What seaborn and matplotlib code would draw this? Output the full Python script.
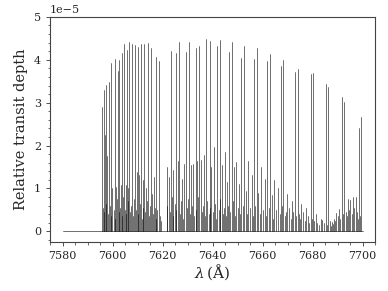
import matplotlib
matplotlib.use("Agg")
import matplotlib.pyplot as plt
import matplotlib.ticker as mticker
import seaborn as sns
import numpy as np
import pandas as pd

# spectrum range (Angstrom)
wl_start, wl_end = 7580.0, 7700.0

# strong O2 A-band lines: centre (A) and relative transit depth (units of 1e-5)
strong_wl = [7595.9, 7596.5, 7597.5, 7598.5, 7599.5, 7600.9, 7602.1, 7602.7, 7603.9, 7604.5,
             7605.6, 7606.7, 7607.7, 7608.9, 7610.0, 7611.2, 7612.5, 7614.1, 7615.2, 7617.2,
             7618.4,
             7623.2, 7625.5, 7626.6, 7629.2, 7630.5, 7633.2, 7634.5, 7637.5, 7638.8, 7641.9,
             7643.1, 7646.5, 7647.7, 7651.5, 7652.5, 7656.5, 7657.6, 7661.9, 7662.9, 7667.3,
             7668.3, 7672.9, 7674.0, 7679.2, 7680.1, 7685.2, 7686.3, 7691.6, 7692.7, 7698.5,
             7699.5]
strong_depth = [2.90, 3.29, 3.41, 3.49, 3.92, 4.01, 3.74, 3.99, 4.15, 4.36,
                4.23, 4.42, 4.36, 4.35, 4.29, 4.37, 4.37, 4.40, 4.27, 4.07,
                3.98,
                4.20, 4.15, 4.41, 4.18, 4.42, 4.28, 4.33, 4.49, 4.44, 4.33,
                4.46, 4.17, 4.41, 4.05, 4.33, 4.02, 4.27, 3.96, 4.13, 3.86,
                4.00, 3.72, 3.78, 3.68, 3.70, 3.43, 3.37, 3.14, 3.01, 2.41,
                2.67]

# medium lines
mid_wl = [7597.0, 7597.9, 7599.9, 7601.2, 7603.2, 7605.2, 7606.3, 7609.6, 7610.6, 7612.0,
          7613.5, 7615.7, 7616.5,
          7621.9, 7622.5, 7624.3, 7626.1, 7627.9, 7628.5, 7631.2, 7632.1, 7633.9, 7635.2,
          7636.5, 7639.5, 7640.5, 7643.6, 7644.9, 7645.9, 7648.5, 7649.5, 7654.3, 7655.6,
          7659.2, 7660.8, 7664.5, 7666.1, 7669.9, 7671.6, 7675.5, 7677.5, 7681.2, 7683.2,
          7683.9, 7687.6, 7688.5, 7689.5, 7690.5, 7694.1, 7695.1, 7696.1, 7697.2]
mid_depth = [2.25, 1.75, 1.00, 1.04, 1.07, 1.07, 1.00, 1.39, 1.31, 1.19,
             1.00, 0.88, 1.27,
             1.50, 1.27, 1.44, 1.63, 1.23, 1.58, 1.55, 1.56, 1.63, 1.66,
             1.78, 1.50, 1.97, 1.54, 1.85, 1.16, 1.50, 1.62, 1.64, 1.31,
             1.50, 1.22, 1.20, 1.00, 0.86, 0.70, 0.63, 0.55, 0.40, 0.30,
             0.26, 0.22, 0.30, 0.43, 0.53, 0.76, 0.72, 0.80, 0.80]

# faint line forest
faint_wl = [7596.0, 7596.7, 7597.4, 7598.1, 7598.8, 7599.3, 7600.4, 7601.0, 7601.8, 7602.4,
            7603.0, 7603.7, 7604.2, 7604.9, 7605.4, 7606.0, 7606.9, 7607.4, 7608.2, 7608.6,
            7609.3, 7610.3, 7611.0, 7611.6, 7612.3, 7612.9, 7613.8, 7614.6, 7615.0, 7616.0,
            7616.8, 7617.5, 7617.9, 7618.8, 7619.2,
            7621.7, 7622.8, 7623.6, 7624.0, 7624.8, 7625.2, 7626.9, 7627.4, 7628.1, 7629.6,
            7630.1, 7630.9, 7631.7, 7632.6, 7633.5, 7634.2, 7635.7, 7636.2, 7637.0, 7637.9,
            7638.4, 7639.1, 7640.0, 7641.0, 7641.5, 7642.4, 7642.8, 7644.0, 7644.5, 7645.3,
            7646.2, 7647.1, 7648.0, 7649.0, 7650.0, 7650.5, 7651.0, 7652.0, 7653.2, 7653.8,
            7654.8, 7656.0, 7657.1, 7658.3, 7658.8, 7660.0, 7661.4, 7662.4, 7663.8, 7664.0,
            7665.3, 7666.8, 7667.8, 7668.8, 7669.4, 7670.5, 7671.2, 7672.3, 7673.5, 7674.6,
            7675.0, 7676.2, 7676.9, 7678.0, 7678.7, 7679.7, 7680.6, 7681.8, 7682.5, 7684.5,
            7685.8, 7686.8, 7687.2, 7688.0, 7689.0, 7690.0, 7691.1, 7692.2, 7693.2, 7693.6,
            7694.6, 7695.6, 7696.6, 7697.7, 7698.0, 7699.0]
faint_depth = [0.55, 0.45, 0.65, 0.40, 0.60, 0.35, 0.50, 0.30, 0.75, 0.45,
               0.55, 0.35, 0.80, 0.50, 0.40, 0.70, 0.45, 0.60, 0.35, 0.75,
               0.50, 0.40, 0.65, 0.30, 0.55, 0.45, 0.70, 0.35, 0.60, 0.40,
               0.55, 0.30, 0.50, 0.35, 0.25,
               0.60, 0.45, 0.80, 0.35, 0.65, 0.50, 0.40, 0.70, 0.30, 0.55,
               0.75, 0.40, 0.60, 0.35, 0.50, 0.80, 0.45, 0.60, 0.35, 0.70,
               0.40, 0.55, 0.45, 0.65, 0.30, 0.50, 0.75, 0.40, 0.55, 0.35,
               0.60, 0.45, 0.70, 0.35, 0.55, 1.10, 0.40, 0.60, 0.95, 0.40,
               0.55, 0.35, 0.60, 0.90, 0.40, 0.50, 0.35, 0.55, 0.85, 0.30,
               0.50, 0.40, 0.60, 0.35, 0.45, 0.55, 0.30, 0.45, 0.35, 0.40,
               0.30, 0.45, 0.25, 0.35, 0.20, 0.30, 0.25, 0.20, 0.15, 0.20,
               0.15, 0.25, 0.12, 0.18, 0.25, 0.35, 0.30, 0.40, 0.45, 0.35,
               0.50, 0.40, 0.55, 0.45, 0.30, 0.35]

sns.set_style("ticks")
plt.rcParams["font.family"] = ["DejaVu Serif"]
plt.rcParams["mathtext.fontset"] = "dejavuserif"

# stick spectrum: each line is its own unit, drawn from the zero level to its depth
lines = pd.DataFrame({"wl": strong_wl + mid_wl + faint_wl,
                      "depth": strong_depth + mid_depth + faint_depth})
lines["unit"] = np.arange(len(lines)) + 1
sticks = pd.concat([lines.assign(depth=0.0), lines]).sort_values(["unit", "depth"])
baseline = pd.DataFrame({"wl": [wl_start, wl_end], "depth": [0.0, 0.0], "unit": [0, 0]})
spec = pd.concat([baseline, sticks], ignore_index=True)
spec["depth"] = spec["depth"] * 1e-5

fig = plt.figure(figsize=(3.88, 2.91), dpi=100)
ax = fig.add_axes([0.129, 0.168, 0.838, 0.774])
sns.lineplot(data=spec, x="wl", y="depth", units="unit", estimator=None, sort=False,
             color="black", alpha=0.72, linewidth=0.55, ax=ax)

ax.set_xlim(7575, 7705)
ax.set_ylim(-0.25e-5, 5e-5)
ax.xaxis.set_major_locator(mticker.MultipleLocator(20))
ax.xaxis.set_minor_locator(mticker.MultipleLocator(5))
ax.yaxis.set_major_locator(mticker.MultipleLocator(1e-5))
ax.yaxis.set_minor_locator(mticker.MultipleLocator(0.2e-5))
ax.tick_params(which="major", length=3, width=0.6, labelsize=8, color="#333333")
ax.tick_params(which="minor", length=1.8, width=0.5, color="#333333")
ax.yaxis.get_offset_text().set_fontsize(8)
for s in ax.spines.values():
    s.set_linewidth(0.8)
    s.set_color("#444444")

ax.set_xlabel(r"$\lambda\,(\mathrm{\AA})$", fontsize=11, labelpad=1)
ax.set_ylabel("Relative transit depth", fontsize=10.5, labelpad=4)

fig.savefig("out.png", dpi=100)
